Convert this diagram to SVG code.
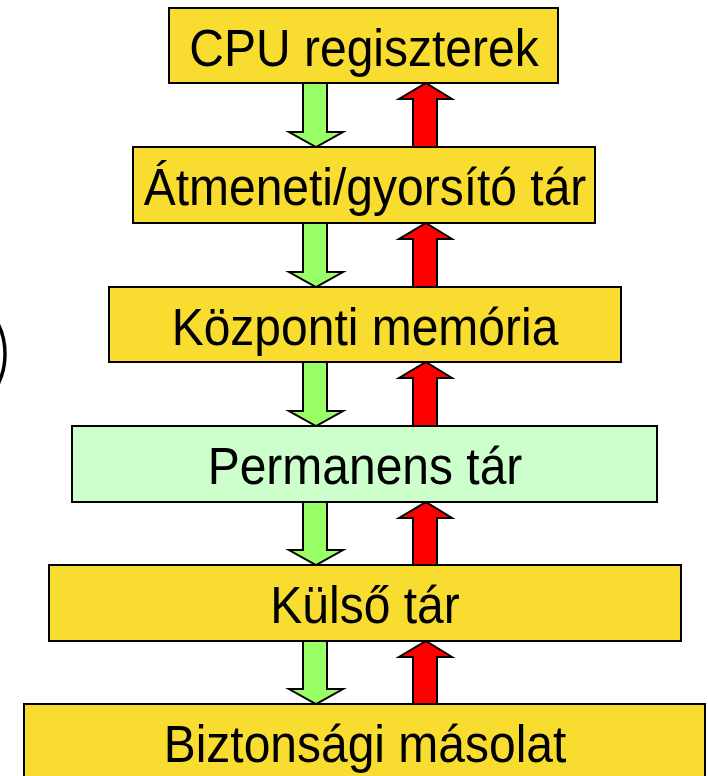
<svg xmlns="http://www.w3.org/2000/svg" width="708" height="776" viewBox="0 0 708 776">
<style>
.box{fill:#F8DC30;stroke:#000;stroke-width:2}
.perm{fill:#CCFFCC;stroke:#000;stroke-width:2}
.lbl{font-family:"Liberation Sans",Arial,sans-serif;font-size:48px;fill:#000;text-anchor:middle}
.down{fill:#99FF66;stroke:#000;stroke-width:2;stroke-linejoin:miter}
.up{fill:#FF0000;stroke:#000;stroke-width:2;stroke-linejoin:miter}
</style>
<rect width="708" height="776" fill="#fff"/>
<g id="partial-circle">
<circle cx="-62" cy="354" r="67" fill="none" stroke="#000" stroke-width="3.5"/>
</g>
<g id="connectors">
<polygon class="down" points="303,83 327,83 327,132 343,132 316,147 289,132 303,132"/>
<polygon class="up" points="426,83 452,99 437,99 437,147 413,147 413,99 399,99"/>
<polygon class="down" points="303,223 327,223 327,272 343,272 316,287 289,272 303,272"/>
<polygon class="up" points="426,223 452,239 437,239 437,287 413,287 413,239 399,239"/>
<polygon class="down" points="303,362 327,362 327,411 343,411 316,426 289,411 303,411"/>
<polygon class="up" points="426,362 452,378 437,378 437,426 413,426 413,378 399,378"/>
<polygon class="down" points="303,502 327,502 327,550 343,550 316,565 289,550 303,550"/>
<polygon class="up" points="426,502 452,518 437,518 437,565 413,565 413,518 399,518"/>
<polygon class="down" points="303,641 327,641 327,689 343,689 316,704 289,689 303,689"/>
<polygon class="up" points="426,641 452,657 437,657 437,704 413,704 413,657 399,657"/>
</g>
<g id="cpu-regiszterek">
<rect class="box" x="169" y="8" width="389" height="75"/>
<text class="lbl" transform="translate(364,66) scale(1,1.08)">CPU regiszterek</text>
</g>
<g id="atmeneti-tar">
<rect class="box" x="133" y="147" width="462" height="76"/>
<text class="lbl" transform="translate(365,205) scale(1,1.08)">Átmeneti/gyorsító tár</text>
</g>
<g id="kozponti-memoria">
<rect class="box" x="109" y="287" width="512" height="75"/>
<text class="lbl" transform="translate(365,345) scale(1,1.08)">Központi memória</text>
</g>
<g id="permanens-tar">
<rect class="perm" x="72" y="426" width="585" height="76"/>
<text class="lbl" transform="translate(365,484) scale(1,1.08)">Permanens tár</text>
</g>
<g id="kulso-tar">
<rect class="box" x="49" y="565" width="632" height="76"/>
<text class="lbl" transform="translate(365,623) scale(1,1.08)">Külső tár</text>
</g>
<g id="biztonsagi-masolat">
<rect class="box" x="24" y="704" width="681" height="80"/>
<text class="lbl" transform="translate(365,762) scale(1,1.08)">Biztonsági másolat</text>
</g>
</svg>
